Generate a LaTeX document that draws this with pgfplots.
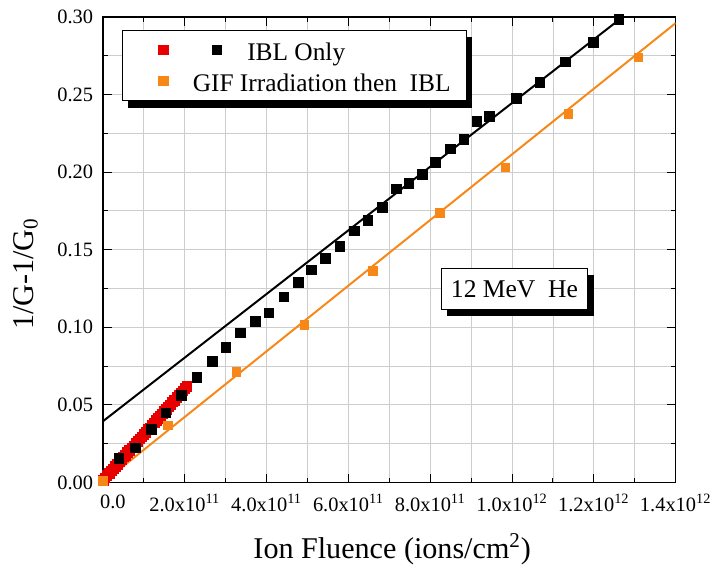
\documentclass[border=0pt]{standalone}
\usepackage{pgfplots}
\pgfplotsset{compat=1.18}
\usepackage{fontspec}
\setmainfont{Liberation Serif}
\usetikzlibrary{shadows}

\definecolor{ibred}{RGB}{232,0,0}
\definecolor{giforange}{RGB}{247,136,24}
\definecolor{gridgray}{RGB}{205,205,205}

% fluence (ions/cm^2) vs 1/G - 1/G0
\pgfplotstableread{
x y
0.01e11 0.0012
0.05e11 0.0030
0.10e11 0.0046
0.15e11 0.0058
0.20e11 0.0075
0.25e11 0.0088
0.30e11 0.0105
0.35e11 0.0117
0.40e11 0.0134
0.45e11 0.0147
0.50e11 0.0164
0.55e11 0.0176
0.60e11 0.0193
0.65e11 0.0206
0.70e11 0.0223
0.75e11 0.0235
0.80e11 0.0252
0.85e11 0.0265
0.90e11 0.0282
0.95e11 0.0294
1.00e11 0.0311
1.05e11 0.0324
1.10e11 0.0341
1.15e11 0.0353
1.20e11 0.0370
1.25e11 0.0383
1.30e11 0.0400
1.35e11 0.0412
1.40e11 0.0429
1.45e11 0.0442
1.50e11 0.0459
1.55e11 0.0471
1.60e11 0.0488
1.65e11 0.0501
1.70e11 0.0518
1.75e11 0.0530
1.80e11 0.0547
1.85e11 0.0560
1.90e11 0.0577
1.95e11 0.0589
2.00e11 0.0606
2.05e11 0.0619
}\redtab

\pgfplotstableread{
x y
3.88e10 0.0155
7.90e10 0.0222
1.18e11 0.0343
1.54e11 0.0449
1.92e11 0.0560
2.30e11 0.0677
2.67e11 0.0779
3.00e11 0.0870
3.36e11 0.0964
3.73e11 0.1039
4.06e11 0.1092
4.42e11 0.1196
4.77e11 0.1288
5.10e11 0.1369
5.43e11 0.1445
5.79e11 0.1520
6.14e11 0.1620
6.47e11 0.1690
6.83e11 0.1773
7.17e11 0.1892
7.48e11 0.1926
7.81e11 0.1985
8.13e11 0.2063
8.49e11 0.2148
8.82e11 0.2211
9.14e11 0.2326
9.45e11 0.2358
1.011e12 0.2476
1.068e12 0.2578
1.130e12 0.2710
1.199e12 0.2837
1.261e12 0.2982
}\ibltab

\pgfplotstableread{
x y
0 0.0010
1.58e11 0.0368
3.26e11 0.0711
4.92e11 0.1015
6.59e11 0.1365
8.23e11 0.1737
9.84e11 0.2031
1.138e12 0.2375
1.309e12 0.2738
}\giftab

% linear fits
\pgfplotstableread{
x y
0 0.0395
1.4e12 0.3265
}\iblfit

\pgfplotstableread{
x y
0 0.0
1.4e12 0.2960
}\giffit

\begin{document}
\begin{tikzpicture}
\begin{axis}[
  width=289pt, height=235pt, scale only axis,
  xmin=0, xmax=1.4e12, ymin=0, ymax=0.30,
  xtick={0,2e11,4e11,6e11,8e11,1e12,1.2e12,1.4e12},
  minor xtick={1e11,3e11,5e11,7e11,9e11,1.1e12,1.3e12},
  xticklabels={\hspace*{10pt}0.0,
    2.0x10\textsuperscript{11},4.0x10\textsuperscript{11},
    6.0x10\textsuperscript{11},8.0x10\textsuperscript{11},
    1.0x10\textsuperscript{12},1.2x10\textsuperscript{12},
    1.4x10\textsuperscript{12}},
  ytick={0,0.05,0.10,0.15,0.20,0.25,0.30},
  minor ytick={0.025,0.075,0.125,0.175,0.225,0.275},
  yticklabels={0.00,0.05,0.10,0.15,0.20,0.25,0.30},
  scaled x ticks=false, scaled y ticks=false,
  tick align=inside, xtick pos=both, ytick pos=both,
  major tick length=4.5pt, minor tick length=2.5pt,
  every tick/.style={black, line width=0.5pt},
  grid=both,
  major grid style={gridgray, line width=0.5pt},
  minor grid style={gridgray, line width=0.45pt},
  axis line style={line width=0.8pt},
  tick label style={font=\fontsize{10.3pt}{12pt}\selectfont},
  xticklabel style={yshift=-2.5pt},
  yticklabel style={xshift=-1.5pt},
  xlabel={Ion Fluence (ions/cm\textsuperscript{2})},
  ylabel={1/G-1/G\textsubscript{0}},
  label style={font=\fontsize{15.2pt}{18pt}\selectfont},
  xlabel style={at={(axis description cs:0.505,-0.143)}, anchor=center},
  ylabel style={at={(axis description cs:-0.135,0.448)}, anchor=center},
  legend style={
    at={(axis description cs:0.033,0.972)}, anchor=north west,
    draw=black, line width=0.5pt, fill=white,
    drop shadow={shadow xshift=3pt, shadow yshift=-3.5pt, fill=black, opacity=1},
    font=\fontsize{12.8pt}{15pt}\selectfont,
    inner xsep=0pt, inner ysep=3.5pt, row sep=3.5pt, column sep=11pt,
    nodes={inner sep=0pt, text height=11.5pt, text depth=1pt},
  },
  legend cell align=left,
]
\addlegendimage{legend image code/.code={
  \path (-20.5pt,0pt) (31pt,0pt);
  \draw[mark=square*, mark size=2.3pt, ibred] plot coordinates {(0pt,0pt)};
  \draw[mark=square*, mark size=2.3pt, black] plot coordinates {(27pt,0pt)};
}}
\addlegendentry{IBL Only}
\addlegendimage{legend image code/.code={
  \path (-20.5pt,0pt) (31pt,0pt);
  \draw[mark=square*, mark size=2.3pt, giforange] plot coordinates {(0pt,0pt)};
}}
\addlegendentry{\hspace*{-27.5pt}GIF Irradiation then\ \ IBL\hspace*{8pt}}

\addplot[black, line width=1pt, no marks, forget plot] table {\iblfit};
\addplot[giforange, line width=1pt, no marks, forget plot] table {\giffit};
\addplot[only marks, mark=square*, mark size=2.4pt, ibred, forget plot] table {\redtab};
\addplot[only marks, mark=square*, mark size=2.2pt, giforange, forget plot] table {\giftab};
\addplot[only marks, mark=square*, mark size=2.4pt, black, forget plot] table {\ibltab};

\node[draw=black, line width=0.5pt, fill=white,
      drop shadow={shadow xshift=3pt, shadow yshift=-3pt, fill=black, opacity=1},
      minimum width=74pt, minimum height=20.5pt, inner sep=0pt,
      font=\fontsize{12.9pt}{15pt}\selectfont]
  at (axis cs:1.006e12,0.1245) {12 MeV\ \ He};
\end{axis}
\path ([shift={(-52pt,-44pt)}]current axis.south west)
  rectangle ([shift={(307pt,243.5pt)}]current axis.south west);
\end{tikzpicture}
\end{document}
